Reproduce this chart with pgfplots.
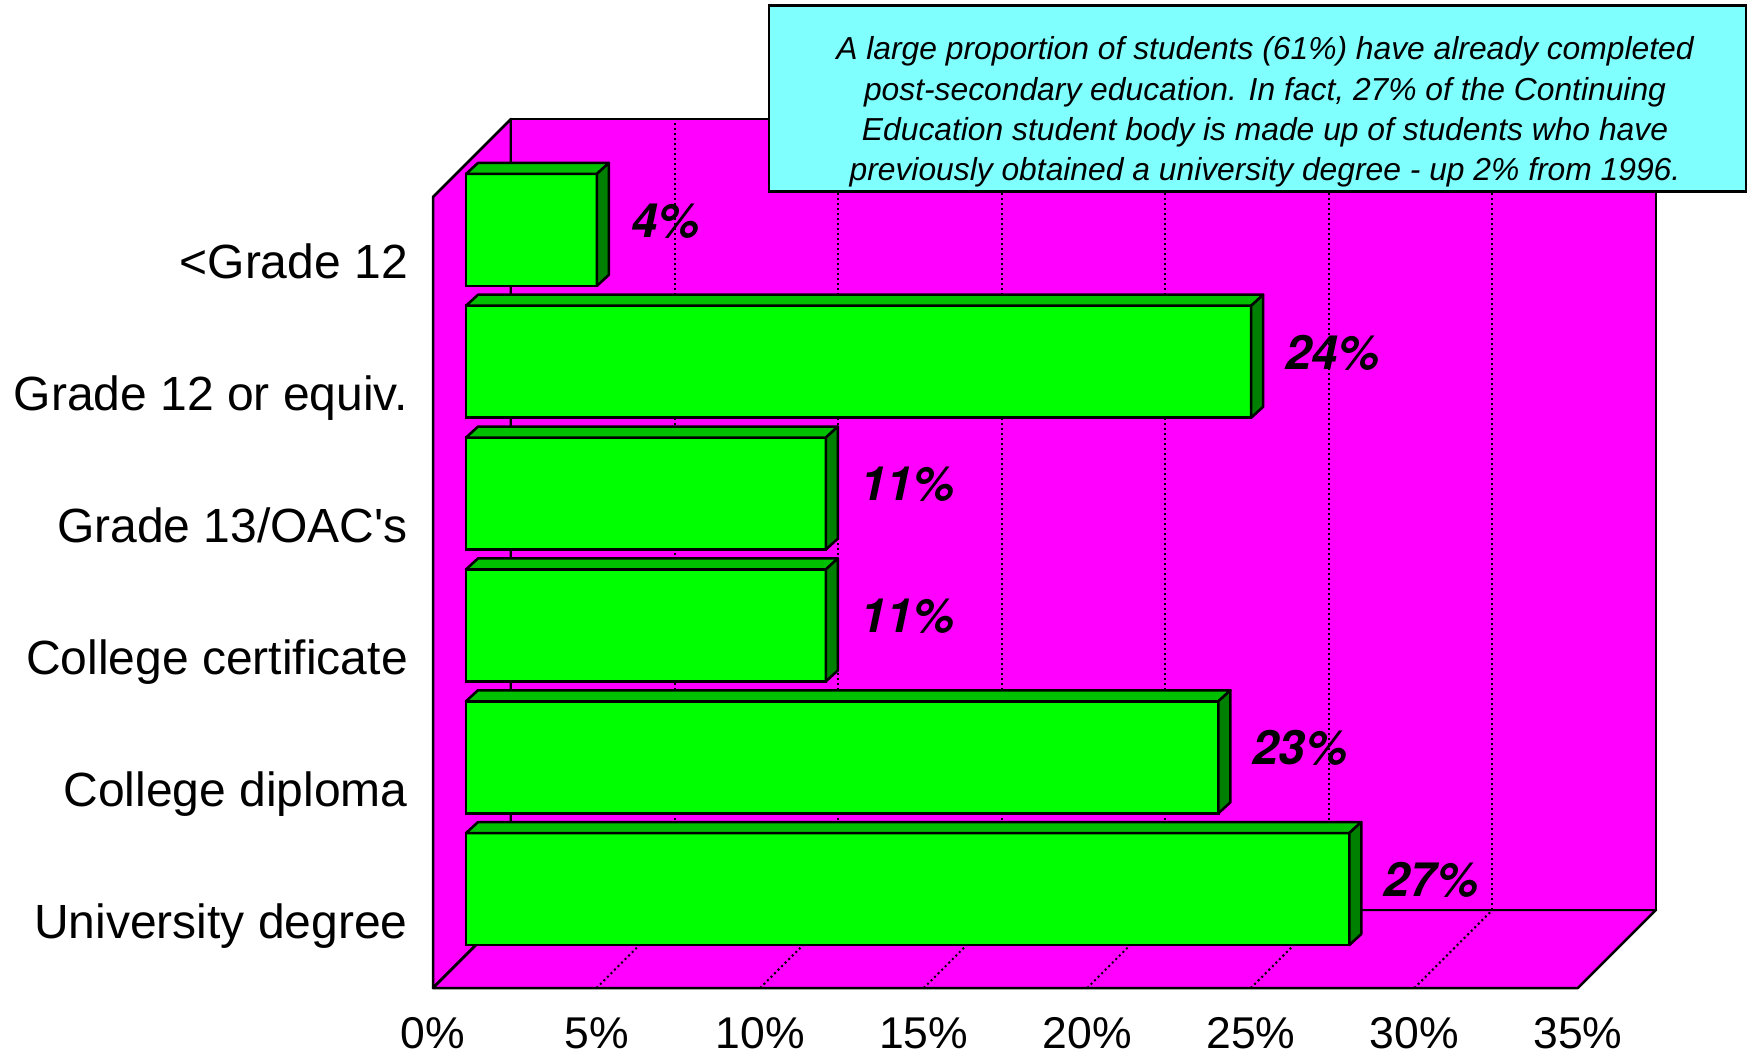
\documentclass[border=0pt]{standalone}
\usepackage{pgfplots}
\pgfplotsset{compat=1.18}
\usepackage{pgfplotstable}
\usepackage{fontspec}
\setmainfont{Liberation Sans}
\newfontfamily\valfont{TeX Gyre Heros}

\definecolor{wall}{HTML}{FF00FF}
\definecolor{barfront}{HTML}{00FF00}
\definecolor{bartop}{HTML}{00C000}
\definecolor{barside}{HTML}{008000}
\definecolor{note}{HTML}{80FFFF}

% pos = category centre (0.5 = bottom), val = percent
\pgfplotstableread{
pos val
5.5 4
4.5 24
3.5 11
2.5 11
1.5 23
0.5 27
}\datatable

% 3D bar drawn at each data point (front-left-middle of the bar)
\pgfdeclareplotmark{bar3d}{%
  \pgfkeys{/pgf/fpu=false}%
  \edef\barval{\pgfplotspointmeta}%
  \pgfmathsetmacro{\Lf}{\barval*32.7143}%
  \pgfmathsetmacro{\Lb}{\Lf+12}%
  \pgfmathsetmacro{\Ll}{\Lf+34}%
  \path[fill=barfront, draw=black, line width=2.5pt] (0pt,-56pt) rectangle (\Lf pt,56pt);
  \path[fill=bartop, draw=black, line width=2.5pt, line join=round] (0pt,56pt) -- (\Lf pt,56pt) -- (\Lb pt,67pt) -- (12pt,67pt) -- cycle;
  \path[fill=barside, draw=black, line width=2.5pt, line join=round] (\Lf pt,-56pt) -- (\Lb pt,-45pt) -- (\Lb pt,67pt) -- (\Lf pt,56pt) -- cycle;
  \node[anchor=west, inner sep=0pt, font=\valfont\fontsize{47.3}{50}\selectfont\bfseries\itshape] at (\Ll pt, 9pt) {\barval\%};
}

\begin{document}
\begin{tikzpicture}
\path[use as bounding box] (0pt,0pt) rectangle (1748pt,1055pt);
\begin{axis}[
  scale only axis,
  width=1145pt, height=791pt,
  at={(433pt,67pt)}, anchor=south west,
  xmin=0, xmax=35, ymin=0, ymax=6,
  clip=false,
  axis line style={draw=none},
  major tick length=0pt,
  xtick={0,5,10,15,20,25,30,35},
  xticklabels={0\%,5\%,10\%,15\%,20\%,25\%,30\%,35\%},
  ytick={0.5,1.5,2.5,3.5,4.5,5.5},
  yticklabels={University degree,College diploma,College certificate,Grade 13/OAC\textquotesingle s,Grade 12 or equiv.,<Grade 12},
  /pgf/number format/assume math mode=true,
  xticklabel style={font=\fontsize{44.5}{50}\selectfont, anchor=north, inner sep=0pt, yshift=-29pt},
  yticklabel style={font=\fontsize{48}{52}\selectfont, anchor=base east, inner sep=0pt, xshift=-25pt, yshift=-16pt},
]
% left wall
\addplot[fill=wall, draw=black, line width=2.5pt, line join=round] coordinates {(0,0) (2.3843,0.5917) (2.3843,6.5917) (0,6)} -- cycle;
% floor
\addplot[fill=wall, draw=black, line width=2.5pt, line join=round] coordinates {(0,0) (35,0) (37.3843,0.5917) (2.3843,0.5917)} -- cycle;
% back wall
\addplot[fill=wall, draw=black, line width=2.5pt, line join=round] coordinates {(2.3843,0.5917) (37.3843,0.5917) (37.3843,6.5917) (2.3843,6.5917)} -- cycle;
% gridlines on back wall
\addplot[black, line width=2pt, dash pattern=on 2pt off 3pt] coordinates {(7.3843,0.5917) (7.3843,6.5917)};
\addplot[black, line width=2pt, dash pattern=on 2pt off 3pt] coordinates {(12.3843,0.5917) (12.3843,6.5917)};
\addplot[black, line width=2pt, dash pattern=on 2pt off 3pt] coordinates {(17.3843,0.5917) (17.3843,6.5917)};
\addplot[black, line width=2pt, dash pattern=on 2pt off 3pt] coordinates {(22.3843,0.5917) (22.3843,6.5917)};
\addplot[black, line width=2pt, dash pattern=on 2pt off 3pt] coordinates {(27.3843,0.5917) (27.3843,6.5917)};
\addplot[black, line width=2pt, dash pattern=on 2pt off 3pt] coordinates {(32.3843,0.5917) (32.3843,6.5917)};
% gridlines on floor
\addplot[black, line width=2pt, dash pattern=on 2pt off 3pt] coordinates {(5,0) (7.3843,0.5917)};
\addplot[black, line width=2pt, dash pattern=on 2pt off 3pt] coordinates {(10,0) (12.3843,0.5917)};
\addplot[black, line width=2pt, dash pattern=on 2pt off 3pt] coordinates {(15,0) (17.3843,0.5917)};
\addplot[black, line width=2pt, dash pattern=on 2pt off 3pt] coordinates {(20,0) (22.3843,0.5917)};
\addplot[black, line width=2pt, dash pattern=on 2pt off 3pt] coordinates {(25,0) (27.3843,0.5917)};
\addplot[black, line width=2pt, dash pattern=on 2pt off 3pt] coordinates {(30,0) (32.3843,0.5917)};
% bars
\addplot[scatter, only marks, mark=bar3d,
  point meta=explicit symbolic,
  scatter/@pre marker code/.code={},
  scatter/@post marker code/.code={}]
  table[x expr=1.0088, y expr=\thisrow{pos}+0.2503, meta=val] {\datatable};
\end{axis}
\node[fill=note, draw=black, line width=2.5pt, minimum width=977pt, minimum height=186pt, inner sep=0pt] at (1257.5pt,956.4pt) {};
\node[align=center, inner sep=0pt, font=\fontsize{31.8}{40.2}\selectfont\itshape] at (1265pt,943pt)
  {A large proportion of students (61\%) have already completed\\
   post-secondary education. In fact, 27\% of the Continuing\\
   Education student body is made up of students who have\\
   previously obtained a university degree - up 2\% from 1996.};
\end{tikzpicture}
\end{document}
